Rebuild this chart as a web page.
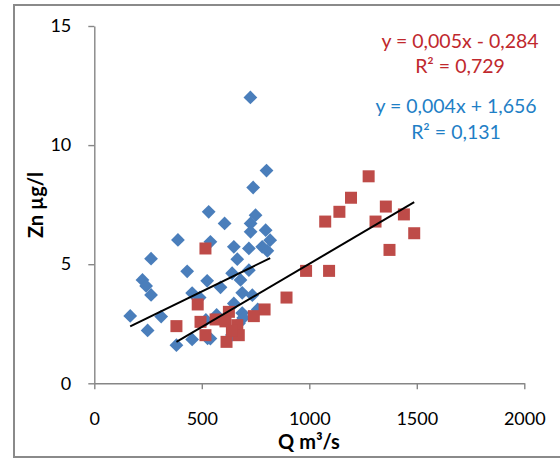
<!DOCTYPE html>
<html>
<head>
<meta charset="utf-8">
<script src="https://cdn.jsdelivr.net/npm/d3@7"></script>
<style>
  body { margin: 0; background: #fff; }
  text { font-family: Lato, 'Open Sans', sans-serif; }
  .axis path, .axis line { stroke: #868686; stroke-width: 1.4; }
  .axis text { font-size: 18px; fill: #000; }
</style>
</head>
<body>
<div id="chart"></div>
<script>
// blue series (diamonds): Q m3/s, Zn ug/l
var blueQ = [726, 801, 739, 532, 606, 750, 727, 727, 797, 389, 540, 818, 649, 719, 781, 805, 665, 264, 719, 432, 641, 680, 224, 525, 241, 587, 455, 264, 688, 735, 490, 649, 167, 311, 688, 693, 569, 519, 248, 673, 527, 455, 382, 540, 640, 760]
var blueZn = [12.0, 8.93, 8.22, 7.2, 6.71, 7.06, 6.71, 6.36, 6.43, 6.02, 5.94, 6.01, 5.73, 5.66, 5.73, 5.56, 5.21, 5.23, 4.75, 4.7, 4.62, 4.34, 4.34, 4.3, 4.09, 4.03, 3.79, 3.71, 3.8, 3.7, 3.6, 3.35, 2.83, 2.8, 2.95, 2.75, 2.87, 2.66, 2.22, 2.52, 1.89, 1.84, 1.6, 1.88, 2.03, 3.1]

// red series (squares)
var redQ = [1276, 1194, 1140, 1356, 1440, 1074, 1308, 1488, 1373, 517, 985, 1092, 894, 481, 792, 742, 382, 626, 494, 564, 517, 615, 665, 672, 610, 640]
var redZn = [8.69, 7.79, 7.2, 7.42, 7.09, 6.79, 6.79, 6.3, 5.6, 5.66, 4.72, 4.72, 3.6, 3.31, 3.1, 2.82, 2.4, 3.0, 2.58, 2.68, 2.02, 1.74, 2.44, 2.02, 2.6, 2.2]

// trend lines: [slope, intercept, xmin, xmax]
var blueTrend = [0.0044, 1.656, 167, 818]
var redTrend = [0.0053, -0.284, 382, 1488]

var blueLabels = ['y = 0,004x + 1,656', 'R² = 0,131']
var redLabels = ['y = 0,005x - 0,284', 'R² = 0,729']

var xTicks = [0, 500, 1000, 1500, 2000]
var yTicks = [0, 5, 10, 15]

;(function() {
  var width = 560
  var height = 459

  var svg = d3
    .select('#chart')
    .append('svg')
    .attr('width', width)
    .attr('height', height)

  // outer frame
  svg
    .append('rect')
    .attr('x', 14)
    .attr('y', 5)
    .attr('width', 560)
    .attr('height', 452)
    .attr('fill', 'none')
    .attr('stroke', '#8a8a8a')
    .attr('stroke-width', 2)

  var xScale = d3
    .scaleLinear()
    .domain([0, 2000])
    .range([94.3, 524.3])
  var yScale = d3
    .scaleLinear()
    .domain([0, 15])
    .range([383.3, 26])

  var xAxis = d3
    .axisBottom(xScale)
    .tickValues(xTicks)
    .tickFormat(d3.format('d'))
    .tickSize(6)
    .tickSizeOuter(0)
    .tickPadding(23)
  svg
    .append('g')
    .attr('class', 'axis x-axis')
    .attr('transform', 'translate(0,' + yScale(0) + ')')
    .call(xAxis)

  var yAxis = d3
    .axisLeft(yScale)
    .tickValues(yTicks)
    .tickFormat(d3.format('d'))
    .tickSize(6)
    .tickSizeOuter(0)
    .tickPadding(17)
  svg
    .append('g')
    .attr('class', 'axis y-axis')
    .attr('transform', 'translate(' + xScale(0) + ',0)')
    .call(yAxis)

  var blue = blueQ.map((q, i) => ({ q: q, zn: blueZn[i] }))
  var red = redQ.map((q, i) => ({ q: q, zn: redZn[i] }))

  svg
    .selectAll('.blue')
    .data(blue)
    .enter()
    .append('path')
    .attr('class', 'blue')
    .attr('d', d3.symbol().type(d3.symbolSquare).size(95))
    .attr('transform', d => 'translate(' + xScale(d.q) + ',' + yScale(d.zn) + ') rotate(45)')
    .attr('fill', '#4a7ebb')

  svg
    .selectAll('.red')
    .data(red)
    .enter()
    .append('rect')
    .attr('class', 'red')
    .attr('x', d => xScale(d.q) - 6)
    .attr('y', d => yScale(d.zn) - 6)
    .attr('width', 12)
    .attr('height', 12)
    .attr('fill', '#be4b48')

  var line = d3
    .line()
    .x(d => xScale(d[0]))
    .y(d => yScale(d[1]))

  ;[blueTrend, redTrend].forEach(t => {
    svg
      .append('path')
      .attr('d', line([[t[2], t[0] * t[2] + t[1]], [t[3], t[0] * t[3] + t[1]]]))
      .attr('stroke', '#000')
      .attr('stroke-width', 2)
      .attr('fill', 'none')
  })

  // equations
  svg
    .selectAll('.redlab')
    .data(redLabels)
    .enter()
    .append('text')
    .text(d => d)
    .attr('x', 460)
    .attr('y', (d, i) => 40 + i * 25)
    .attr('dominant-baseline', 'central')
    .attr('text-anchor', 'middle')
    .style('font-size', '19.5px')
    .style('fill', '#c0282d')

  svg
    .selectAll('.bluelab')
    .data(blueLabels)
    .enter()
    .append('text')
    .text(d => d)
    .attr('x', 456)
    .attr('y', (d, i) => 105 + i * 26)
    .attr('dominant-baseline', 'central')
    .attr('text-anchor', 'middle')
    .style('font-size', '19.5px')
    .style('fill', '#1f7fc6')

  // axis titles
  svg
    .append('text')
    .text('Q m³/s')
    .attr('x', 309)
    .attr('y', 441)
    .attr('dominant-baseline', 'central')
    .attr('text-anchor', 'middle')
    .style('font-size', '20px')
    .style('font-weight', 'bold')

  svg
    .append('text')
    .text('Zn µg/l')
    .attr('transform', 'translate(35,205) rotate(-90)')
    .attr('dominant-baseline', 'central')
    .attr('text-anchor', 'middle')
    .style('font-size', '20px')
    .style('font-weight', 'bold')
})()
</script>
</body>
</html>
